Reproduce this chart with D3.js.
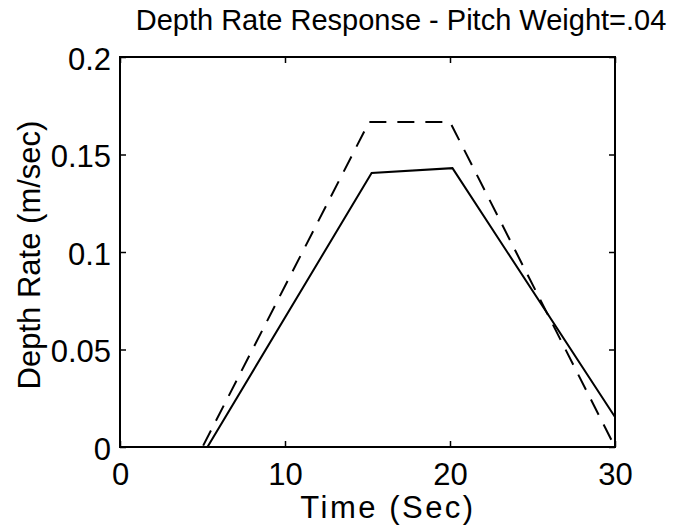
<!DOCTYPE html>
<html>
<head>
<meta charset="utf-8">
<script src="https://cdn.jsdelivr.net/npm/d3@7"></script>
<style>
  body { margin: 0; background: #fff; }
  text { font-family: "Liberation Sans", Arial, sans-serif; fill: #000; }
</style>
</head>
<body>
<div id="chart"></div>
<script>
// data
var dashedT = [0, 5, 15.1, 20, 30];
var dashedV = [0, 0, 0.1667, 0.1667, 0];
var solidT = [0, 5.3, 15.25, 20.15, 30];
var solidV = [0, 0, 0.1405, 0.143, 0.0154];
var xTicks = [0, 10, 20, 30];
var yTicks = [0, 0.05, 0.1, 0.15, 0.2];
var yTickLabels = ["0", "0.05", "0.1", "0.15", "0.2"];

var margin = { top: 57, left: 120 },
    width = 495,
    height = 390;

var svg = d3.select("#chart").append("svg")
  .attr("width", 674)
  .attr("height", 528);

var g = svg.append("g")
  .attr("transform", "translate(" + margin.left + "," + margin.top + ")");

var x = d3.scaleLinear().domain([0, 30]).range([0, width]);
var y = d3.scaleLinear().domain([0, 0.2]).range([height, 0]);

// inward ticks on all four sides, matlab style
var tl = 6;
g.append("g")
  .attr("transform", "translate(0," + height + ")")
  .call(d3.axisBottom(x).tickValues(xTicks).tickSize(-tl).tickFormat(d3.format("d")))
  .call(function(a) {
    a.select(".domain").remove();
    a.selectAll("line").attr("stroke", "#000").attr("stroke-width", 1.5);
    a.selectAll("text").attr("font-size", "31px").attr("dy", null)
      .attr("y", 38);
  });
g.append("g")
  .call(d3.axisTop(x).tickValues(xTicks).tickSize(-tl).tickFormat(""))
  .call(function(a) {
    a.select(".domain").remove();
    a.selectAll("line").attr("stroke", "#000").attr("stroke-width", 1.5);
  });
g.append("g")
  .call(d3.axisLeft(y).tickValues(yTicks).tickSize(-tl)
    .tickFormat(function(d, i) { return yTickLabels[i]; }))
  .call(function(a) {
    a.select(".domain").remove();
    a.selectAll("line").attr("stroke", "#000").attr("stroke-width", 1.5);
    a.selectAll("text").attr("font-size", "31px").attr("x", -9).attr("dy", "0.4em");
  });
g.append("g")
  .attr("transform", "translate(" + width + ",0)")
  .call(d3.axisRight(y).tickValues(yTicks).tickSize(-tl).tickFormat(""))
  .call(function(a) {
    a.select(".domain").remove();
    a.selectAll("line").attr("stroke", "#000").attr("stroke-width", 1.5);
  });

// box
g.append("rect")
  .attr("width", width)
  .attr("height", height)
  .attr("fill", "none")
  .attr("stroke", "#000")
  .attr("stroke-width", 2);

var line = d3.line()
  .x(function(d) { return x(d[0]); })
  .y(function(d) { return y(d[1]); });

g.append("path")
  .attr("d", line(d3.zip(dashedT, dashedV)))
  .attr("fill", "none")
  .attr("stroke", "#000")
  .attr("stroke-width", 2)
  .attr("stroke-dasharray", "17,11");

g.append("path")
  .attr("d", line(d3.zip(solidT, solidV)))
  .attr("fill", "none")
  .attr("stroke", "#000")
  .attr("stroke-width", 2);

// titles
svg.append("text")
  .attr("x", 401)
  .attr("y", 30)
  .attr("text-anchor", "middle")
  .attr("font-size", "29px")
  .text("Depth Rate Response - Pitch Weight=.04");

svg.append("text")
  .attr("x", 388)
  .attr("y", 518)
  .attr("text-anchor", "middle")
  .attr("font-size", "31px")
  .attr("letter-spacing", "2.5px")
  .text("Time (Sec)");

svg.append("text")
  .attr("transform", "translate(40,255) rotate(-90)")
  .attr("text-anchor", "middle")
  .attr("font-size", "31px")
  .text("Depth Rate (m/sec)");
</script>
</body>
</html>
